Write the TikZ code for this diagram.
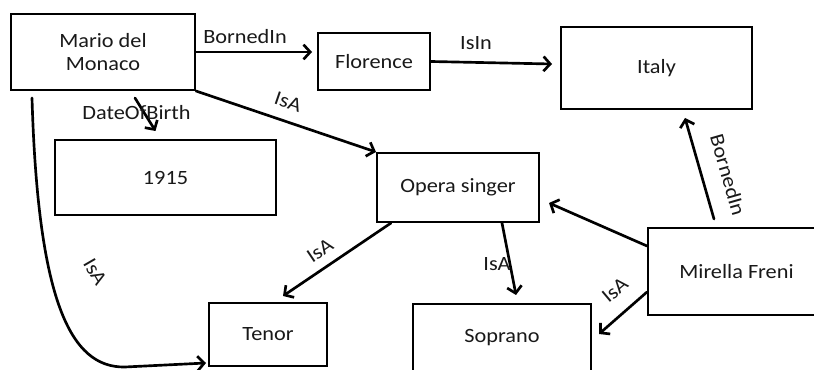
\documentclass[tikz,border=0pt]{standalone}
\usepackage{fontspec}
\setmainfont{Carlito}[FakeStretch=1.1]
\usetikzlibrary{arrows.meta,calc}
\begin{document}
\begin{tikzpicture}[x=0.75pt,y=-0.75pt,
  every node/.style={font=\fontsize{15.2}{17.5}\selectfont, text=black!90},
  box/.style={draw, line width=1.5pt, inner sep=0pt, align=center},
  arr/.style={line width=2pt, -{Straight Barb[length=5pt,width=11pt,line width=2pt]}, line cap=round},
  lbl/.style={inner sep=1pt}]
\useasboundingbox (0,0) rectangle (814,370);
\fill[white] (0,0) rectangle (814,370);

% concepts
\node[box, minimum width=184*0.75pt, minimum height=76*0.75pt] (mario) at (103,52) {Mario del\\Monaco};
\node[box, minimum width=112*0.75pt, minimum height=57*0.75pt] (florence) at (374,61.5) {Florence};
\node[box, minimum width=191*0.75pt, minimum height=82*0.75pt] (italy) at (656.5,68) {Italy};
\node[box, minimum width=221*0.75pt, minimum height=75*0.75pt] (year) at (165.5,177.5) {1915};
\node[box, minimum width=162*0.75pt, minimum height=69*0.75pt] (opera) at (458,187.5) {Opera singer};
\node[box, minimum width=118*0.75pt, minimum height=63*0.75pt] (tenor) at (268,334.5) {Tenor};
\node[box, minimum width=178*0.75pt, minimum height=68*0.75pt] (soprano) at (502,338) {Soprano};
\node[box, minimum width=177*0.75pt, minimum height=87*0.75pt] (mirella) at (736.5,271.5) {Mirella Freni};

% relations
\draw[arr] (mario.east) -- ($(mario.east)+(116,0)$);
\draw[arr] (florence.east) -- ($(italy.west)+(-8,-4)$);
\draw[arr] ($(mario.south)+(32,7)$) -- ($(year.north)+(-10,-8)$);
\draw[arr] (mario.south east) -- (opera.north west);
\draw[arr] ($(mario.south west)+(22,7)$) .. controls (38,300) and (70,368) .. (125,367) -- ($(tenor.south west)+(-2,-4)$);
\draw[arr] ($(opera.south west)+(15,0)$) -- ($(tenor.north)+(15,-6)$);
\draw[arr] ($(opera.south)+(44,0)$) -- ($(soprano.north)+(14,-8)$);
\draw[arr] ($(mirella.west)+(0,-25.5)$) -- ($(opera.east)+(9,15.5)$);
\draw[arr] ($(mirella.west)+(0,20.5)$) -- ($(soprano.east)+(7,-4)$);
\draw[arr] ($(mirella.north)+(-22.5,-8)$) -- ($(italy.south)+(28.5,8)$);

% relation names
\node[lbl] (l1) at (245,37) {BornedIn};
\node[lbl] (l2) at (476,43) {IsIn};
\node[lbl] (l3) at (136.5,113) {DateOfBirth};
\node[lbl, rotate=-19] (l4) at (288,102) {IsA};
\node[lbl, rotate=-60] (l5) at (95,272) {IsA};
\node[lbl, rotate=34] (l6) at (320,251) {IsA};
\node[lbl] (l7) at (497,264) {IsA};
\node[lbl, rotate=40] (l8) at (615,290) {IsA};
\node[lbl, rotate=-74] (l9) at (728,175) {BornedIn};
\end{tikzpicture}
\end{document}
